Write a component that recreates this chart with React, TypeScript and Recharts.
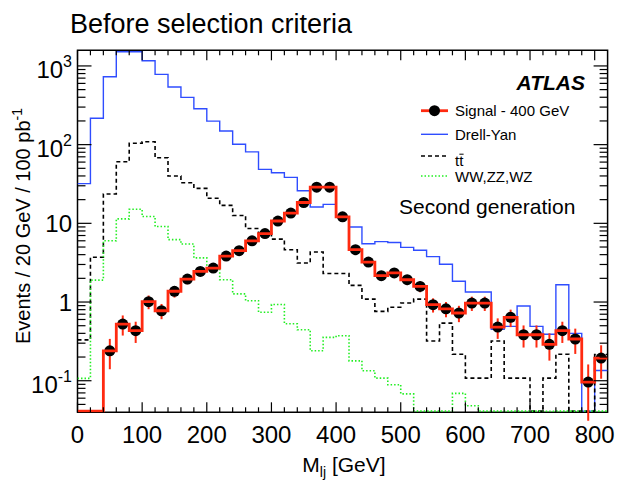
import React from "react";
import { ComposedChart, Line, Scatter, ErrorBar, XAxis, YAxis, ReferenceArea } from "recharts";

// 20 GeV bins, lower edges
const binLow = [
  0, 20, 40, 60, 80, 100, 120, 140, 160, 180, 200, 220, 240, 260, 280, 300, 320, 340, 360, 380, 400,
  420, 440, 460, 480, 500, 520, 540, 560, 580, 600, 620, 640, 660, 680, 700, 720, 740, 760, 780, 800,
];
const X_MAX = 820;

// events / 20 GeV / 100 pb-1 (0 = empty bin)
const drellYan = [
  32, 216, 729, 1515, 1515, 1164, 782, 540, 399, 286, 199, 149, 101, 81, 48.5, 44, 38.4, 25.9, 16.1, 17.4, 12.1,
  9.0, 5.5, 5.85, 5.7, 4.95, 4.55, 3.78, 3.02, 1.84, 1.34, 1.34, 0.45, 0.49, 0.89, 0.49, 0.39, 1.66, 0.4, 0, 0.135,
];
const ttbar = [
  0.33, 3.7, 23.6, 60.6, 104, 109, 68, 39.9, 32.8, 27.8, 20.8, 16.9, 12.6, 8.6, 7.46, 6.3, 4.62, 3.13, 4.32, 2.3, 2.3,
  1.63, 1.09, 0.76, 0.86, 0.97, 1.09, 0.32, 0.54, 0.217, 0.108, 0.108, 0.32, 0.108, 0.108, 0, 0.108, 0.217, 0, 0, 0.215,
];
const diboson = [
  0.107, 1.9, 6.0, 11.4, 15.1, 12.2, 9.1, 6.2, 5.46, 3.64, 2.7, 1.92, 1.27, 1.04, 0.74, 0.93, 0.53, 0.445, 0.24, 0.356, 0.373,
  0.179, 0.134, 0.108, 0.089, 0.068, 0, 0, 0, 0.069, 0.048, 0, 0, 0, 0, 0, 0.041, 0, 0, 0, 0,
];
const signal = [
  0, 0, 0.24, 0.525, 0.432, 1.01, 0.775, 1.37, 1.96, 2.45, 2.7, 3.84, 4.49, 6.0, 7.4, 10.7, 13.5, 18.4, 28.8, 28.8, 12.1,
  4.62, 3.22, 2.16, 2.34, 1.92, 1.58, 0.925, 0.82, 0.725, 0.97, 0.97, 0.48, 0.64, 0.384, 0.384, 0.29, 0.432, 0.339, 0.096, 0.194,
];
const signalErr = [
  0, 0, 0.1, 0.15, 0.13, 0.2, 0.17, 0.23, 0.28, 0.31, 0.33, 0.39, 0.42, 0.49, 0.54, 0.65, 0.73, 0.86, 1.06, 1.06, 0.7,
  0.43, 0.36, 0.29, 0.31, 0.28, 0.25, 0.19, 0.18, 0.17, 0.2, 0.2, 0.14, 0.16, 0.12, 0.12, 0.11, 0.13, 0.12, 0.065, 0.088,
];

const xLabels = [0, 100, 200, 300, 400, 500, 600, 700, 800];
const yTicks = [
  0.05, 0.06, 0.07, 0.08, 0.09, 0.1, 0.2, 0.3, 0.4, 0.5, 0.6, 0.7, 0.8, 0.9, 1, 2, 3, 4, 5, 6, 7, 8, 9,
  10, 20, 30, 40, 50, 60, 70, 80, 90, 100, 200, 300, 400, 500, 600, 700, 800, 900, 1000,
];
const yLabels = [
  { v: 0.1, base: "10", sup: "-1" },
  { v: 1, base: "1", sup: "" },
  { v: 10, base: "10", sup: "" },
  { v: 100, base: "10", sup: "2" },
  { v: 1000, base: "10", sup: "3" },
];
const Y_MIN = 0.0397;
const Y_MAX = 1580;

const W = 619;
const H = 480;
const PL = 77.5;
const PT = 50.3;
const PR = 607.6;
const PB = 412.3;
const X_AXIS_H = 30;
const FONT = "'Liberation Sans', Arial, Helvetica, sans-serif";

const RED = "#ff2a10";
const BLUE = "#2f4dff";
const GREEN = "#22ee22";

// empty bins sit on the bottom edge of the frame, like ROOT draws them
const EMPTY = Y_MIN * 1.035;
const floor = (v: number) => (v > 0 ? v : EMPTY);

const rows = [...binLow, X_MAX].map((x, i) => {
  const j = Math.min(i, binLow.length - 1);
  return { x, dy: floor(drellYan[j]), tt: floor(ttbar[j]), vv: floor(diboson[j]), sig: floor(signal[j]) };
});

const sigPts = binLow
  .map((lo, i) => ({ x: lo + 10, sig: signal[i], err: signalErr[i] }))
  .filter((p) => p.sig > 0);

function XTick(props: any) {
  const { x, payload } = props;
  const v = payload.value;
  const major = xLabels.includes(v);
  const len = major ? 10 : 5;
  return (
    <g>
      <line x1={x} x2={x} y1={PB} y2={PB - len} stroke="#000" strokeWidth={1.2} />
      <line x1={x} x2={x} y1={PT} y2={PT + len} stroke="#000" strokeWidth={1.2} />
      {major && (
        <text x={x} y={443} textAnchor="middle" fontSize={24} fontFamily={FONT} fill="#000">
          {v}
        </text>
      )}
    </g>
  );
}

function YTick(props: any) {
  const { y, payload } = props;
  const lab = yLabels.find((l) => l.v === payload.value);
  const len = lab ? 14 : 8;
  return (
    <g>
      <line x1={PL} x2={PL + len} y1={y} y2={y} stroke="#000" strokeWidth={1.2} />
      <line x1={PR} x2={PR - len} y1={y} y2={y} stroke="#000" strokeWidth={1.2} />
      {lab && (
        <text x={72} y={y + (lab.sup ? 12 : 8.5)} textAnchor="end" fontSize={24} fontFamily={FONT} fill="#000">
          {lab.base}
          {lab.sup && (
            <tspan dy={-11} fontSize={16}>
              {lab.sup}
            </tspan>
          )}
        </text>
      )}
    </g>
  );
}

const SigDot = (p: any) => <circle cx={p.cx} cy={p.cy} r={5.5} fill="#000" />;

export default function App() {
  return (
    <div style={{ position: "absolute", left: 0, top: 0, width: W, height: H, background: "#fff" }}>
      <ComposedChart
        width={W}
        height={H}
        data={rows}
        margin={{ top: PT, right: W - PR, bottom: H - PB - X_AXIS_H, left: 0 }}
      >
        <XAxis
          type="number"
          dataKey="x"
          domain={[0, X_MAX]}
          ticks={binLow}
          interval={0}
          tick={(p: any) => <XTick {...p} />}
          tickLine={false}
          axisLine={false}
          height={X_AXIS_H}
          allowDataOverflow
        />
        <YAxis
          type="number"
          scale="log"
          domain={[Y_MIN, Y_MAX]}
          allowDataOverflow
          ticks={yTicks}
          interval={0}
          tick={(p: any) => <YTick {...p} />}
          tickLine={false}
          axisLine={false}
          width={PL}
        />
        <ReferenceArea x1={0} x2={X_MAX} y1={Y_MIN} y2={Y_MAX} fill="none" stroke="#000" strokeWidth={1.5} ifOverflow="visible" />
        <Line dataKey="dy" type="stepAfter" stroke={BLUE} strokeWidth={1.4} dot={false} isAnimationActive={false} />
        <Line dataKey="tt" type="stepAfter" stroke="#000" strokeWidth={1.6} strokeDasharray="4 3" dot={false} isAnimationActive={false} />
        <Line dataKey="vv" type="stepAfter" stroke={GREEN} strokeWidth={1.6} strokeDasharray="1.5 2" dot={false} isAnimationActive={false} />
        <Scatter data={sigPts} dataKey="sig" shape={SigDot} isAnimationActive={false}>
          <ErrorBar dataKey="err" direction="y" width={0} stroke={RED} strokeWidth={2} />
        </Scatter>
        <Line
          dataKey="sig"
          type="stepAfter"
          stroke={RED}
          strokeWidth={2.8}
          dot={false}
          isAnimationActive={false}
          zIndex={700}
        />
      </ComposedChart>

      <svg width={W} height={H} style={{ position: "absolute", left: 0, top: 0, pointerEvents: "none" }} fontFamily={FONT}>
        <text x={70} y={33} fontSize={27} fill="#000">
          Before selection criteria
        </text>
        <text transform="translate(30,226) rotate(-90)" textAnchor="middle" fontSize={20} fill="#000">
          Events / 20 GeV / 100 pb
          <tspan dy={-8} fontSize={14}>
            -1
          </tspan>
        </text>
        <text x={344} y={472} textAnchor="middle" fontSize={21} fill="#000">
          M
          <tspan dy={5} fontSize={14}>
            lj
          </tspan>
          <tspan dy={-5}> [GeV]</tspan>
        </text>

        <text x={585} y={90} textAnchor="end" fontSize={21} fontWeight="bold" fontStyle="italic" fill="#000">
          ATLAS
        </text>
        <line x1={421} x2={448} y1={110.7} y2={110.7} stroke={RED} strokeWidth={2.8} />
        <circle cx={434.5} cy={110.7} r={5.5} fill="#000" />
        <text x={455} y={116} fontSize={15} fill="#000">Signal - 400 GeV</text>
        <line x1={421} x2={448} y1={134.3} y2={134.3} stroke={BLUE} strokeWidth={1.4} />
        <text x={455} y={139.5} fontSize={15} fill="#000">Drell-Yan</text>
        <line x1={421} x2={448} y1={156} y2={156} stroke="#000" strokeWidth={1.6} strokeDasharray="4 3" />
        <text x={455} y={166} fontSize={15} fill="#000">tt</text>
        <line x1={459.4} x2={463.6} y1={154.2} y2={154.2} stroke="#000" strokeWidth={1} />
        <line x1={421} x2={448} y1={176} y2={176} stroke={GREEN} strokeWidth={1.6} strokeDasharray="1.5 2" />
        <text x={455} y={181.5} fontSize={15} fill="#000">WW,ZZ,WZ</text>
        <text x={399} y={214} fontSize={21} fill="#000">
          Second generation
        </text>
      </svg>
    </div>
  );
}
